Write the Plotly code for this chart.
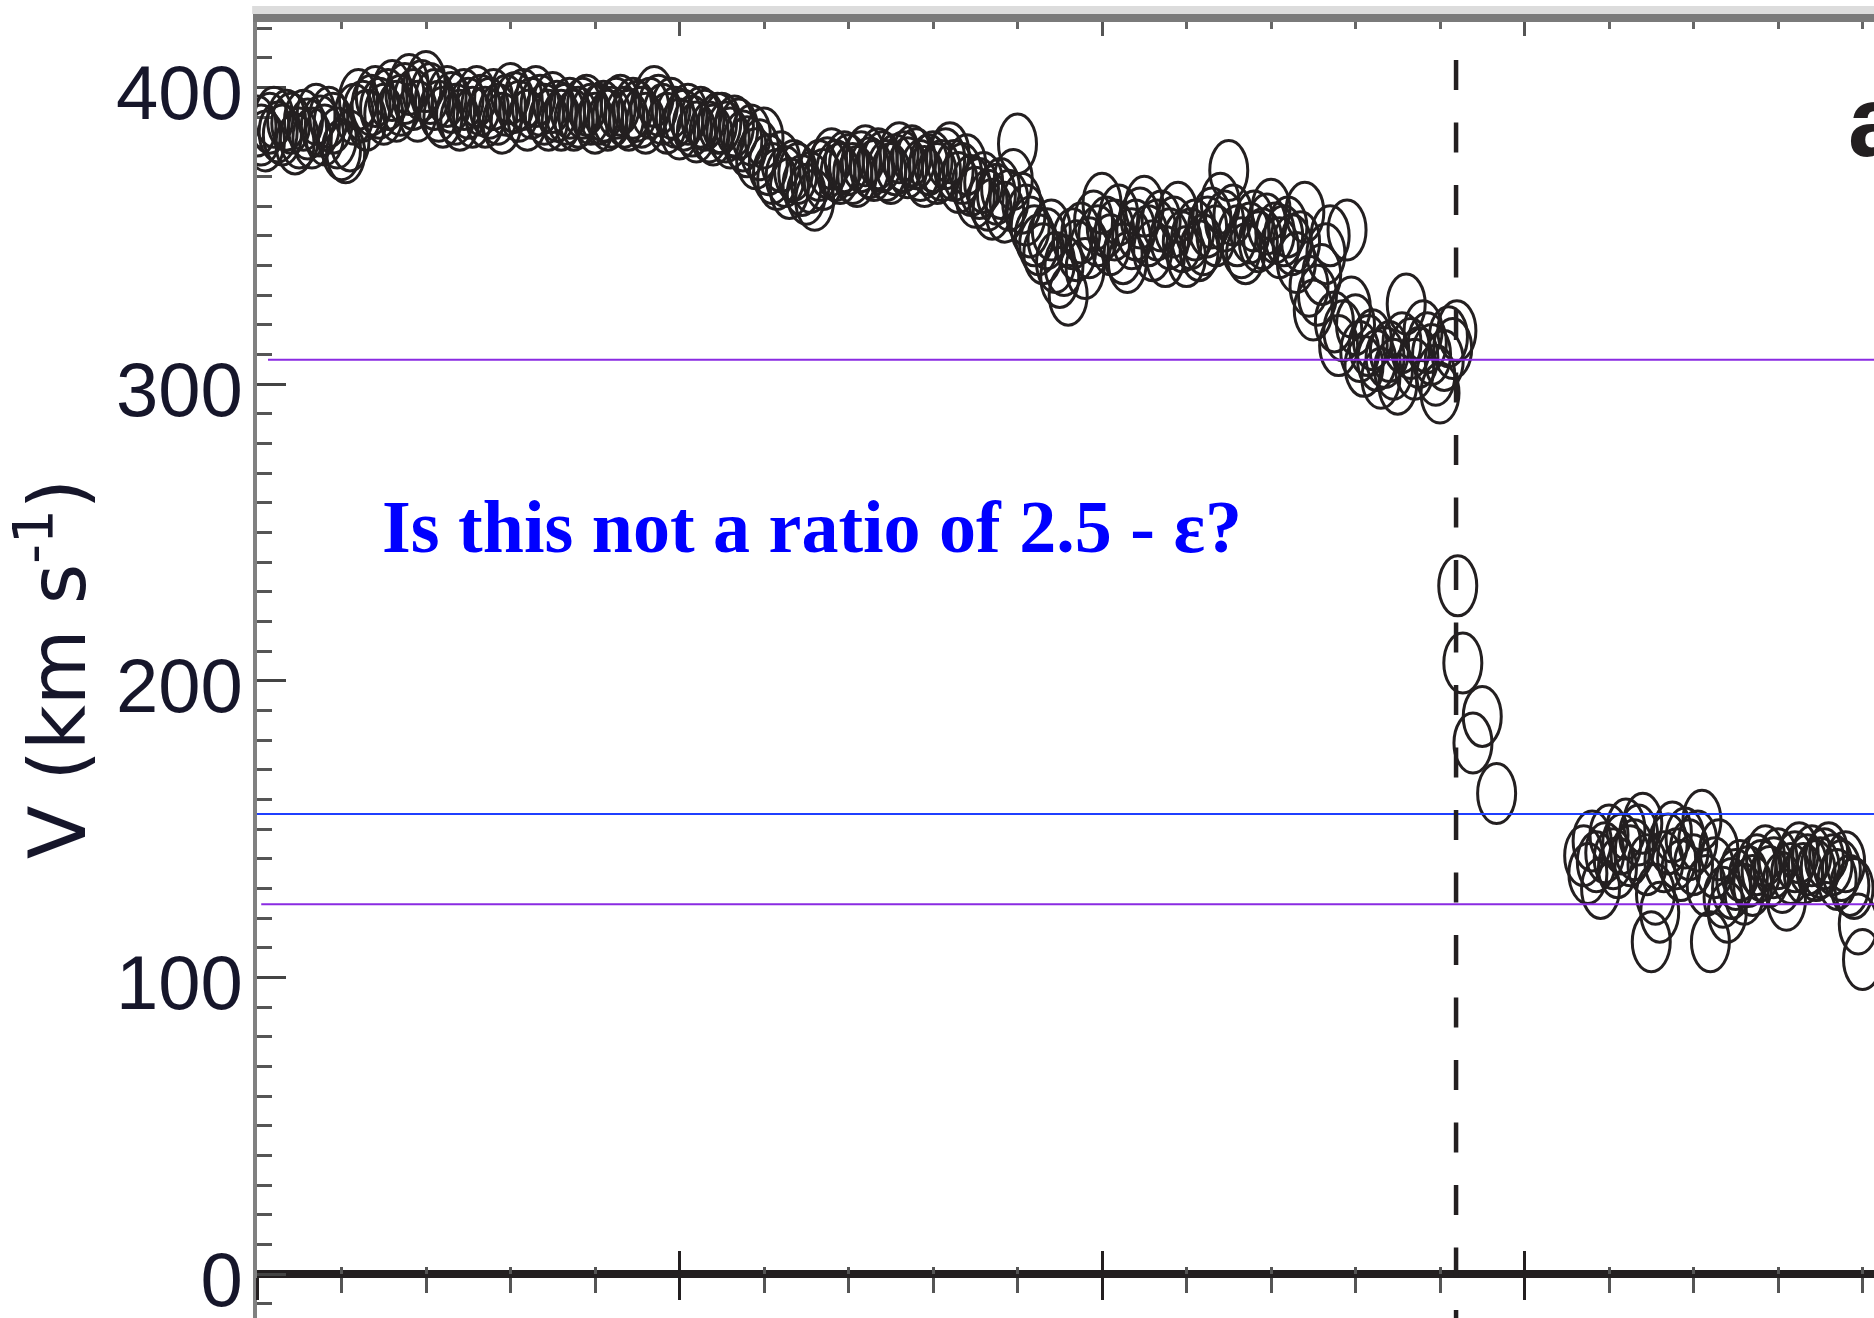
import plotly.graph_objects as go

# ---------------------------------------------------------------------------
# Flow speed V (km/s) versus time (h)
# ---------------------------------------------------------------------------
time_upstream = [
    0.00, 0.05, 0.10, 0.15, 0.20, 0.25, 0.30, 0.35, 0.40, 0.45,
    0.50, 0.55, 0.60, 0.65, 0.70, 0.75, 0.80, 0.85, 0.90, 0.95,
    1.00, 1.05, 1.10, 1.15, 1.20, 1.25, 1.30, 1.35, 1.40, 1.45,
    1.50, 1.55, 1.60, 1.65, 1.70, 1.75, 1.80, 1.85, 1.90, 1.95,
    2.00, 2.05, 2.10, 2.15, 2.20, 2.25, 2.30, 2.35, 2.40, 2.45,
    2.50, 2.55, 2.60, 2.65, 2.70, 2.75, 2.80, 2.85, 2.90, 2.95,
    3.00, 3.05, 3.10, 3.15, 3.20, 3.25, 3.30, 3.35, 3.40, 3.45,
    3.50, 3.55, 3.60, 3.65, 3.70, 3.75, 3.80, 3.85, 3.90, 3.95,
    4.00, 4.05, 4.10, 4.15, 4.20, 4.25, 4.30, 4.35, 4.40, 4.45,
    4.50, 4.55, 4.60, 4.65, 4.70, 4.75, 4.80, 4.85, 4.90, 4.95,
    5.00, 5.05, 5.10, 5.15, 5.20, 5.25, 5.30, 5.35, 5.40, 5.45,
    5.50, 5.55, 5.60, 5.65, 5.70, 5.75, 5.80, 5.85, 5.90, 5.95,
    6.00, 6.05, 6.10, 6.15, 6.20, 6.25, 6.30, 6.35, 6.40, 6.45,
    6.50, 6.55, 6.60, 6.65, 6.70, 6.75, 6.80, 6.85, 6.90, 6.95,
    7.00, 7.05, 7.10, 7.15, 7.20, 7.25, 7.30, 7.35, 7.40, 7.45,
    7.50, 7.55, 7.60, 7.65, 7.70, 7.75, 7.80, 7.85, 7.90, 7.95,
    8.00, 8.05, 8.10, 8.15, 8.20, 8.25, 8.30, 8.35, 8.40, 8.45,
    8.50, 8.55, 8.60, 8.65, 8.70, 8.75, 8.80, 8.85, 8.90, 8.95,
    9.00, 9.05, 9.10, 9.15, 9.20, 9.25, 9.30, 9.35, 9.40, 9.45,
    9.50, 9.55, 9.60, 9.65, 9.70, 9.75, 9.80, 9.85, 9.90, 9.95,
    10.00, 10.05, 10.10, 10.15, 10.20, 10.25, 10.30, 10.35, 10.40, 10.45,
    10.50, 10.55, 10.60, 10.65, 10.70, 10.75, 10.80, 10.85, 10.90, 10.95,
    11.00, 11.05, 11.10, 11.15, 11.20, 11.25, 11.30, 11.35, 11.40, 11.45,
    11.50, 11.55, 11.60, 11.65, 11.70, 11.75, 11.80, 11.85, 11.90, 11.95,
    12.00, 12.05, 12.10, 12.15, 12.20, 12.25, 12.30, 12.35, 12.40, 12.45,
    12.50, 12.55, 12.60, 12.65, 12.70, 12.75, 12.80, 12.85, 12.90, 12.95,
    13.00, 13.05, 13.10, 13.15, 13.20, 13.25, 13.30, 13.35, 13.40, 13.45,
    13.50, 13.55, 13.60, 13.65, 13.70, 13.75, 13.80, 13.85, 13.90, 13.95,
    14.00, 14.05, 14.10, 14.15, 14.20,
]
speed_upstream = [
    387, 384, 382, 388, 390, 385, 384, 389, 388, 381,
    383, 389, 386, 383, 391, 387, 384, 390, 388, 383,
    379, 378, 382, 391, 396, 392, 389, 394, 397, 393,
    391, 396, 399, 392, 394, 398, 401, 396, 392, 399,
    402, 398, 396, 392, 390, 397, 395, 391, 389, 396,
    393, 390, 397, 394, 390, 393, 396, 391, 388, 394,
    398, 395, 392, 396, 389, 393, 397, 394, 391, 389,
    395, 392, 389, 391, 393, 389, 390, 393, 394, 391,
    388, 391, 392, 389, 390, 393, 394, 390, 389, 393,
    392, 390, 388, 393, 397, 394, 391, 388, 393, 390,
    386, 389, 391, 387, 385, 390, 389, 385, 384, 388,
    388, 385, 383, 387, 386, 382, 380, 384, 376, 379,
    383, 374, 371, 369, 375, 370, 366, 372, 371, 367,
    364, 368, 362, 372, 369, 373, 376, 372, 371, 375,
    374, 371, 370, 375, 377, 373, 372, 376, 375, 372,
    371, 374, 378, 375, 373, 377, 376, 372, 370, 374,
    375, 371, 372, 376, 378, 372, 368, 371, 374, 367,
    363, 366, 368, 362, 359, 364, 366, 358, 362, 369,
    381, 361, 357, 353, 350, 347, 344, 349, 352, 341,
    336, 340, 330, 349, 345, 351, 339, 346, 355, 350,
    361, 353, 347, 352, 357, 344, 341, 349, 352, 356,
    360, 350, 345, 352, 355, 343, 349, 353, 358, 348,
    343, 349, 352, 345, 347, 353, 356, 350, 361, 355,
    372, 357, 350, 346, 344, 351, 355, 348, 349, 354,
    359, 351, 346, 350, 353, 347, 341, 348, 358, 333,
    325, 330, 337, 344, 350, 321, 313, 318, 352, 326,
    320, 311, 306, 313, 315, 308, 302, 309, 311, 305,
    300, 314, 327, 312, 305, 309, 318, 314, 310, 303,
    297, 308, 316, 312, 318,
]

time_drop = [14.21, 14.27, 14.39, 14.50, 14.67]
speed_drop = [232, 206, 179, 188, 162]

time_downstream = [
    15.70, 15.75, 15.80, 15.85, 15.90, 15.95, 16.00, 16.05, 16.10, 16.15,
    16.20, 16.25, 16.30, 16.35, 16.40, 16.45, 16.50, 16.55, 16.60, 16.65,
    16.70, 16.75, 16.80, 16.85, 16.90, 16.95, 17.00, 17.05, 17.10, 17.15,
    17.20, 17.25, 17.30, 17.35, 17.40, 17.45, 17.50, 17.55, 17.60, 17.65,
    17.70, 17.75, 17.80, 17.85, 17.90, 17.95, 18.00, 18.05, 18.10, 18.15,
    18.20, 18.25, 18.30, 18.35, 18.40, 18.45, 18.50, 18.55, 18.60, 18.65,
    18.70, 18.75, 18.80, 18.85, 18.90, 18.95, 19.00,
]
speed_downstream = [
    141, 135, 146, 139, 130, 142, 148, 140, 137, 145,
    150, 141, 143, 148, 152, 138, 112, 128, 122, 139,
    145, 149, 140, 136, 147, 143, 138, 146, 153, 131,
    112, 137, 143, 127, 122, 130, 133, 136, 128, 134,
    131, 138, 136, 141, 134, 137, 140, 132, 126, 135,
    139, 142, 135, 138, 141, 136, 137, 140, 142, 138,
    133, 136, 139, 131, 130, 118, 106,
]

# Reference speed levels and the time of the discontinuity
level_speeds = [308.2, 155.1, 124.7]
level_starts = [0.13, -0.05, 0.05]
level_colors = ["#8a2be2", "#1f3fff", "#8a2be2"]
boundary_time = 14.19

question = "<b>Is this not a ratio of 2.5 - ε?</b>"
y_title = "V (km s<sup>-1</sup>)"

# ---------------------------------------------------------------------------
INK = "#231f20"
X_RANGE = [0, 19.136]
Y_RANGE = [-14.83, 422.1]
ZERO_POS = (0 - Y_RANGE[0]) / (Y_RANGE[1] - Y_RANGE[0])

all_t = time_upstream + time_drop + time_downstream
all_v = speed_upstream + speed_drop + speed_downstream

fig = go.Figure()
# carrier traces so every axis gets drawn (markers themselves are shapes below)
fig.add_trace(go.Scatter(x=all_t, y=all_v, mode="markers",
                         marker=dict(size=1, opacity=0), hoverinfo="x+y",
                         showlegend=False))
fig.add_trace(go.Scatter(x=[None], y=[None], xaxis="x2", showlegend=False))
fig.add_trace(go.Scatter(x=[None], y=[None], xaxis="x3", showlegend=False))

shapes = []
# open elliptical markers, one per sample
for t, v in zip(all_t, all_v):
    shapes.append(dict(
        type="circle", xref="x", yref="y",
        xsizemode="pixel", ysizemode="pixel",
        xanchor=t, yanchor=v, x0=-19, x1=19, y0=-30, y1=30,
        line=dict(color=INK, width=3.0), fillcolor="rgba(0,0,0,0)",
    ))

# horizontal speed levels
for v, x0, c in zip(level_speeds, level_starts, level_colors):
    shapes.append(dict(type="line", xref="x", yref="y", x0=x0, x1=X_RANGE[1] + 0.2,
                       y0=v, y1=v, line=dict(color=c, width=2)))

# discontinuity marker
shapes.append(dict(type="line", xref="x", yref="y", x0=boundary_time, x1=boundary_time,
                   y0=409.3, y1=Y_RANGE[0],
                   line=dict(color=INK, width=4.5, dash="30px,32.5px")))

# pale strip above the top frame
shapes.append(dict(type="rect", xref="paper", yref="paper", x0=-0.003, x1=1.0,
                   y0=1 + 8 / 1296, y1=1 + 16 / 1296,
                   line=dict(width=0), fillcolor="#dcdcdc"))

annotations = [
    dict(text=question, xref="x", yref="y", x=1.456, y=251.8,
         xanchor="left", yanchor="middle", showarrow=False,
         font=dict(family="Liberation Serif, Times New Roman, serif", size=74, color="#0000ff")),
    dict(text=y_title, xref="paper", yref="y", x=-0.1268, y=204, textangle=-90,
         xanchor="center", yanchor="middle", showarrow=False,
         font=dict(family="DejaVu Sans, Liberation Sans, sans-serif", size=78, color="#16162a")),
    dict(text="<b>a</b>", xref="x", yref="y", x=18.80, y=388.7,
         xanchor="left", yanchor="middle", showarrow=False,
         font=dict(family="Liberation Sans, Arial, sans-serif", size=100, color=INK)),
]

common_x = dict(range=X_RANGE, showgrid=False, zeroline=False, showticklabels=False,
                fixedrange=True, automargin=False)

fig.update_layout(
    width=1874, height=1318,
    margin=dict(l=257, r=0, t=22, b=0, pad=0, autoexpand=False),
    paper_bgcolor="white", plot_bgcolor="white",
    showlegend=False,
    xaxis=dict(**common_x, anchor="free", position=ZERO_POS,
               showline=True, linecolor=INK, linewidth=8,
               ticks="outside", ticklen=22, tickwidth=2.5, tickcolor=INK,
               tick0=0, dtick=5,
               minor=dict(ticks="outside", ticklen=15, tickwidth=2.5, tickcolor="#555555",
                          tick0=0, dtick=1)),
    xaxis3=dict(**common_x, overlaying="x", anchor="free", position=ZERO_POS,
                showline=False, ticks="inside", ticklen=23, tickwidth=2.5, tickcolor=INK,
                tick0=0, dtick=5,
                minor=dict(ticks="inside", ticklen=7, tickwidth=2.5, tickcolor="#555555",
                           tick0=0, dtick=1)),
    xaxis2=dict(**common_x, overlaying="x", side="top", anchor="y",
                showline=True, linecolor="#7a7a7a", linewidth=8,
                ticks="inside", ticklen=14, tickwidth=2.5, tickcolor="#555555",
                tick0=0, dtick=5,
                minor=dict(ticks="inside", ticklen=7, tickwidth=2.5, tickcolor="#666666",
                           tick0=0, dtick=1)),
    yaxis=dict(range=Y_RANGE, showgrid=False, zeroline=False, fixedrange=True,
               automargin=False,
               showline=True, linecolor="#808080", linewidth=4,
               ticks="inside", ticklen=29, tickwidth=2.5, tickcolor="#444444",
               tick0=0, dtick=100,
               minor=dict(ticks="inside", ticklen=15, tickwidth=2.5, tickcolor="#555555",
                          tick0=0, dtick=10),
               tickfont=dict(family="Liberation Sans, Arial, sans-serif",
                             size=76, color="#16162a"),
               ticklabelstandoff=-5, ticklabelshift=5, ticklabeloverflow="allow"),
    shapes=shapes,
    annotations=annotations,
)

fig.write_html("out.html")
